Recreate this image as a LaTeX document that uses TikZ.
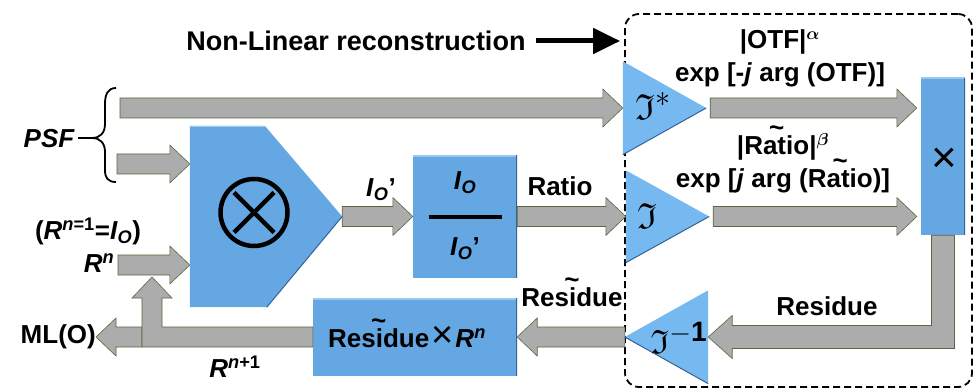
\documentclass[tikz,border=0pt]{standalone}
\usepackage{amssymb}
\usepackage{fontspec}
\setmainfont{Liberation Sans}
\usetikzlibrary{calc,arrows.meta}

\definecolor{blockblue}{RGB}{100,167,226}
\definecolor{blocklight}{RGB}{150,200,242}
\definecolor{blockshade}{RGB}{52,98,150}
\definecolor{triblue}{RGB}{118,184,240}
\definecolor{shaftgray}{RGB}{172,172,172}
\definecolor{shaftedge}{RGB}{88,104,60}

% a small tilde centred over a word
\newcommand{\tildeover}[1]{{\ooalign{#1\cr\hfil\raisebox{0.7em}{\textasciitilde}\hfil\cr}}}

\tikzset{
  lbl/.style={font=\fontsize{26}{32}\selectfont\bfseries, inner sep=0pt},
  twoline/.style={font=\fontsize{26}{33}\selectfont\bfseries, inner sep=0pt, align=center},
  holder/.style={inner sep=0pt, draw=none},
  block/.style={fill=blockblue, inner sep=0pt,
    path picture={
      \draw[blocklight, line width=3pt] (path picture bounding box.north west) -- (path picture bounding box.north east);
      \draw[blockshade, line width=2.5pt] (path picture bounding box.north east) -- (path picture bounding box.south east);
    }},
  fatshape/.style={draw=shaftedge, fill=shaftgray, line width=0.6pt, line join=miter},
  % straight block arrow: shaft 20pt wide, head 38pt wide and 20pt long
  fatarrow/.style={fatshape,
    to path={let \p1=(\tikztostart), \p2=(\tikztotarget),
      \n1={atan2(\y2-\y1,\x2-\x1)}, \n2={veclen(\x2-\x1,\y2-\y1)-20pt} in
      -- ($(\p1)+(\n1+90:10pt)$)
      -- ($(\p1)+(\n1:\n2)+(\n1+90:10pt)$)
      -- ($(\p1)+(\n1:\n2)+(\n1+90:19pt)$)
      -- (\p2)
      -- ($(\p1)+(\n1:\n2)+(\n1-90:19pt)$)
      -- ($(\p1)+(\n1:\n2)+(\n1-90:10pt)$)
      -- ($(\p1)+(\n1-90:10pt)$)
      -- cycle}},
  tri/.style={fill=triblue},
  triedge/.style={draw=blockshade, line width=1pt},
}

\begin{document}
\begin{tikzpicture}[x=1pt,y=-1pt]
\useasboundingbox (0,0) rectangle (974,390);

% dashed frame of the non-linear stage
\node[holder, draw=black, dash pattern=on 7pt off 4pt, line width=1.8pt, rounded corners=14pt,
      minimum width=347pt, minimum height=373pt] (nlbox) at (798.5,200.5) {};

% frames for the drawn blocks
\node[holder, minimum width=152pt, minimum height=181pt] (mult) at (266,216.5) {};
\node[block, minimum width=104pt, minimum height=122pt] (div) at (465,216.5) {};
\node[holder, minimum width=83pt, minimum height=93pt] (fs) at (664.5,108) {};
\node[holder, minimum width=83pt, minimum height=92pt] (ft) at (667.5,216.5) {};
\node[block, minimum width=44pt, minimum height=157pt] (mul2) at (943,156.5) {};
\node[holder, minimum width=83pt, minimum height=93pt] (fi) at (666.5,337) {};
\node[block, minimum width=204pt, minimum height=78pt] (resblock) at (415,337) {};

% points where arrows start or end
\coordinate (psfA) at (120,108);
\coordinate (psfB) at (117,164);
\coordinate (rnA) at (118,265);
\coordinate (fbtip) at (152,277);
\coordinate (fsout) at ($(fs.east)+(4,0)$);
\coordinate (ftout) at ($(ft.east)+(4,0)$);
\coordinate (fsin) at ($(mul2.west |- fs.east)+(-4,0)$);
\coordinate (ftin) at ($(mul2.west |- ft.east)+(-4,0)$);
\coordinate (mlstart) at ($(fbtip |- resblock.west)+(-10,0)$);

% labels
\node[lbl, font=\fontsize{27}{32}\selectfont\bfseries] (nlr) at (356,41) {Non-Linear reconstruction};
\node[lbl, font=\fontsize{26}{32}\selectfont\bfseries\itshape] (psf) at (49,139) {PSF};
\node[lbl, anchor=east] (mlo) at (96,337) {ML(O)};
\node[lbl] (init) at (88,231) {(\textit{R}\textsuperscript{\textit{n}=1}=\textit{I}\textsubscript{\textit{O}})};
\node[lbl] (rn) at (99,263) {\textit{R}\textsuperscript{\textit{n}}};
\node[lbl] (rn1) at (235,367) {\textit{R}\textsuperscript{\textit{n}+1}};
\node[lbl] (io) at (381,190) {\textit{I}\textsubscript{\textit{O}}’};
\node[lbl] (ratio) at (560,186) {Ratio};
\node[twoline] (otf) at (780,58) {|OTF|{\boldmath$^{\alpha}$}\\exp [-\textit{j} arg (OTF)]};
\node[twoline] (rat) at (783,163) {|\tildeover{Ratio}|{\boldmath$^{\beta}$}\\exp [\textit{j} arg (\tildeover{Ratio})]};
\node[lbl] (resr) at (827,306) {Residue};
\node[lbl] (resl) at (572,297) {\tildeover{Residue}};

% title arrow into the dashed frame
\draw[line width=5pt, -{Triangle[length=27pt,width=25pt]}, shorten >=4pt]
  ([xshift=10pt]nlr.east) -- (nlbox.west |- nlr.east);

% PSF brace
\draw[line width=1.8pt] (116,88) .. controls (108,88) and (105,94) .. (105,104) -- (105,124)
  .. controls (105,133) and (100,138) .. (92,138) -- (78,138);
\draw[line width=1.8pt] (92,138) .. controls (100,138) and (105,143) .. (105,152) -- (105,170)
  .. controls (105,178) and (108,182) .. (116,182);

% block arrows
\draw[fatarrow] (psfA) to (fs.west);
\draw[fatarrow] (psfB) to (mult.west |- psfB);
\draw[fatarrow] (rnA) to (mult.west |- rnA);
\draw[fatarrow] (mult.east) to (div.west);
\draw[fatarrow] (div.east) to (ft.west);
\draw[fatarrow] (fsout) to (fsin);
\draw[fatarrow] (ftout) to (ftin);
\draw[fatarrow] (fi.west) to (resblock.east);
\draw[fatarrow] (mlstart) to (mlo.east);

% product block down and back to the inverse transform
\draw[fatshape] let \p1=(mul2.south), \p2=(fi.east) in
  ({\x1-11.5pt},\y1) -- ({\x1+11.5pt},\y1) -- ({\x1+11.5pt},{\y2-11.5pt})
  -- ({\x2+24pt},{\y2-11.5pt}) -- ({\x2+24pt},{\y2-21.5pt}) -- (\p2)
  -- ({\x2+24pt},{\y2+21.5pt}) -- ({\x2+24pt},{\y2+11.5pt})
  -- ({\x1-11.5pt},{\y2+11.5pt}) -- cycle;

% feedback of the new estimate
\draw[fatshape] let \p1=(resblock.west), \p2=(fbtip) in
  (\x1,{\y1+10pt}) -- ({\x2+10pt},{\y1+10pt}) -- ({\x2+10pt},{\y2-21pt})
  -- ({\x2+20pt},{\y2-21pt}) -- (\p2) -- ({\x2-20pt},{\y2-21pt})
  -- ({\x2-10pt},{\y2-21pt}) -- ({\x2-10pt},{\y1-10pt}) -- (\x1,{\y1-10pt}) -- cycle;

% multiplication block
\fill[blockblue] (mult.north west) -- ($(mult.north west)+(75,0)$) -- (mult.east)
  -- ($(mult.south west)+(77,0)$) -- (mult.south west) -- cycle;
\draw[blocklight, line width=1.5pt] ($(mult.north west)+(0,0.75)$) -- ($(mult.north west)+(75,0.75)$);
\draw[blockshade, line width=1pt] (mult.east) -- ($(mult.south west)+(77,0)$);
\node[holder, circle, draw=black, line width=4.5pt, minimum size=67pt] (otimes) at (254,212.5) {};
\draw[line width=4.5pt] ($(otimes.center)+(-20,-20)$) -- ($(otimes.center)+(20,20)$);
\draw[line width=4.5pt] ($(otimes.center)+(-20,20)$) -- ($(otimes.center)+(20,-20)$);

% division block
\node[lbl] (iotop) at (465,183) {\textit{I}\textsubscript{\textit{O}}};
\draw[line width=4pt] ($(div.west)+(16,0)$) -- ($(div.east)+(-15,0)$);
\node[lbl] (iobot) at (465,249) {\textit{I}\textsubscript{\textit{O}}’};

% transforms
\fill[tri] (fs.north west) -- (fs.east) -- (fs.south west) -- cycle;
\draw[triedge] (fs.east) -- (fs.south west);
\fill[tri] (ft.north west) -- (ft.east) -- (ft.south west) -- cycle;
\draw[triedge] (ft.east) -- (ft.south west);
\fill[tri] (fi.west) -- (fi.north east) -- (fi.south east) -- cycle;
\draw[triedge] (fi.west) -- (fi.south east);
\node[holder, scale=1.45] (fslbl) at (653,106) {\fontsize{24.88}{28}\selectfont$\mathfrak{I}^{*}$};
\node[holder, scale=1.45] (ftlbl) at (647,216) {\fontsize{24.88}{28}\selectfont$\mathfrak{I}$};
\node[holder, scale=1.35] (filbl) at (679,338) {\fontsize{24.88}{28}\selectfont$\mathfrak{I}^{\mathbf{-1}}$};

% product of the two spectra
\node[holder, font=\fontsize{44}{44}\selectfont] (times) at (944,160) {×};

% update block
\node[lbl] (update) at (407,337) {\tildeover{Residue}\kern2pt{\mdseries\fontsize{38}{38}\selectfont ×}\kern2pt\textit{R}\textsuperscript{\textit{n}}};
\end{tikzpicture}
\end{document}
